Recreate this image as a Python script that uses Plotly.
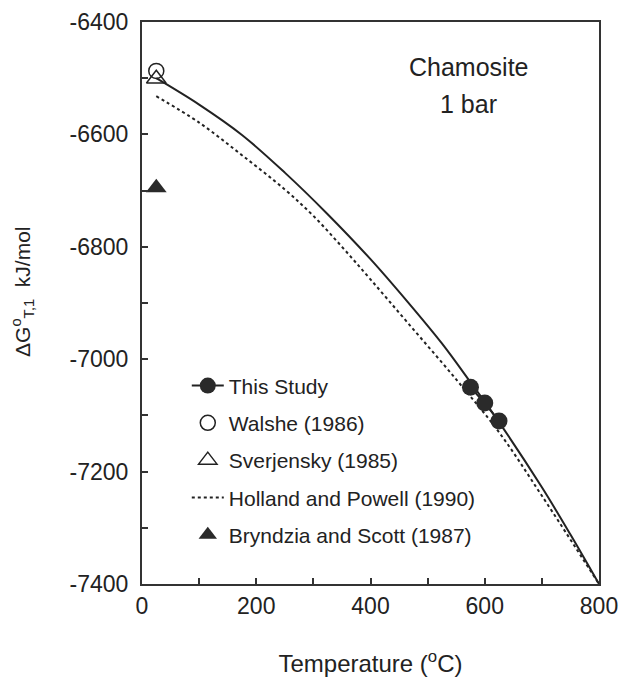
import plotly.graph_objects as go

# Data
curve_T = [25, 100, 175, 250, 325, 400, 465, 525, 575, 625, 700, 750, 800]
curve_G = [-6500, -6547, -6601, -6668, -6742, -6822, -6898, -6972, -7041, -7112, -7228, -7312, -7400]

study_T = [575, 600, 625]
study_G = [-7050, -7078, -7110]

hp_T = [25, 100, 175, 250, 300, 350, 400, 465, 550, 625, 700, 800]
hp_G = [-6532, -6579, -6637, -6698, -6745, -6800, -6858, -6935, -7036, -7130, -7243, -7400]

walshe_T = [25]
walshe_G = [-6487]
sverj_T = [25]
sverj_G = [-6501]
bryn_T = [25]
bryn_G = [-6695]

x_ticks = [0, 200, 400, 600, 800]
y_ticks = [-6400, -6600, -6800, -7000, -7200, -7400]
y_ticktext = ["-6400", "-6600", "-6800", "-7000", "-7200", "-7400"]

FONT = "Liberation Sans, Arial, Helvetica, sans-serif"
INK = "#222222"

fig = go.Figure()

fig.add_trace(go.Scatter(x=hp_T, y=hp_G, mode="lines", name="Holland and Powell (1990)",
                         line=dict(color=INK, width=2, dash="dot", shape="spline", smoothing=1.0),
                         legendgroup="d", legendrank=4))
fig.add_trace(go.Scatter(x=curve_T, y=curve_G, mode="lines", showlegend=False,
                         line=dict(color=INK, width=2, shape="spline", smoothing=1.0)))
fig.add_trace(go.Scatter(x=study_T, y=study_G, mode="lines+markers", name="This Study",
                         line=dict(color=INK, width=2),
                         marker=dict(symbol="circle", size=17, color="#2a2a2a"),
                         legendgroup="a", legendrank=1))
fig.add_trace(go.Scatter(x=walshe_T, y=walshe_G, mode="markers", name="Walshe (1986)",
                         marker=dict(symbol="circle-open", size=15, color=INK, line=dict(width=1.5)),
                         legendgroup="b", legendrank=2))
fig.add_trace(go.Scatter(x=sverj_T, y=sverj_G, mode="markers", name="Sverjensky (1985)",
                         marker=dict(symbol="triangle-up-open", size=17, color=INK, line=dict(width=1.5)),
                         legendgroup="c", legendrank=3))
fig.add_trace(go.Scatter(x=bryn_T, y=bryn_G, mode="markers", name="Bryndzia and Scott (1987)",
                         marker=dict(symbol="triangle-up", size=18, color="#2a2a2a"),
                         legendgroup="e", legendrank=5))

axis_common = dict(
    showgrid=False, zeroline=False, showline=True, linecolor="#333333", linewidth=2,
    mirror=True, ticks="inside", ticklen=6, tickwidth=1.5, tickcolor="#333333",
    tickfont=dict(family=FONT, size=23, color=INK), automargin=False,
)

fig.update_xaxes(range=[0, 800], tickvals=x_ticks,
                 minor=dict(dtick=100, tick0=0, ticks="inside", ticklen=6, tickwidth=1.5, tickcolor="#333333"),
                 title=dict(text="Temperature (<sup>o</sup>C)", font=dict(family=FONT, size=24, color=INK), standoff=39),
                 **axis_common)
fig.update_yaxes(range=[-7400, -6400], tickvals=y_ticks, ticktext=y_ticktext, ticklabelstandoff=7,
                 minor=dict(dtick=100, tick0=-6400, ticks="inside", ticklen=6, tickwidth=1.5, tickcolor="#333333"),
                 **axis_common)

fig.add_annotation(xref="paper", yref="paper", x=0, y=0.5196, xshift=-119,
                   xanchor="center", yanchor="middle", textangle=-90, showarrow=False,
                   text="ΔG<sup>o</sup><sub>T,1</sub>  kJ/mol",
                   font=dict(family=FONT, size=21, color=INK))

fig.add_annotation(x=572, y=-6480, text="Chamosite", showarrow=False,
                   font=dict(family=FONT, size=25, color=INK), xref="x", yref="y")
fig.add_annotation(x=571, y=-6546, text="1 bar", showarrow=False,
                   font=dict(family=FONT, size=25, color=INK), xref="x", yref="y")

fig.update_layout(
    width=619, height=677,
    margin=dict(l=142, r=20, t=22, b=93),
    paper_bgcolor="white", plot_bgcolor="white",
    font=dict(family=FONT, color=INK),
    showlegend=True,
    legend=dict(x=0.098, y=0.389, xanchor="left", yanchor="top",
                font=dict(family=FONT, size=21, color=INK),
                bgcolor="rgba(0,0,0,0)", tracegroupgap=7, itemwidth=32,
                traceorder="grouped"),
)

# remove the browser's default 8px page margin so the figure sits at the window origin
fig.write_html("out.html",
               config={"displayModeBar": False},
               post_script="document.body.style.margin='0';document.body.style.overflow='hidden';")
